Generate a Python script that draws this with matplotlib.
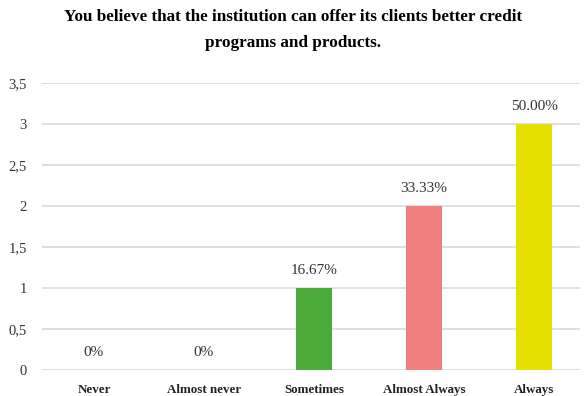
import matplotlib
matplotlib.use("Agg")
import matplotlib.pyplot as plt

categories = ["Never", "Almost never", "Sometimes", "Almost Always", "Always"]
counts = [0, 0, 1, 2, 3]
percent_labels = ["0%", "0%", "16.67%", "33.33%", "50.00%"]
bar_colors = ["#4472c4", "#ed7d31", "#4aab3a", "#f08080", "#e6e000"]
y_ticks = [0, 0.5, 1, 1.5, 2, 2.5, 3, 3.5]
y_tick_labels = ["0", "0,5", "1", "1,5", "2", "2,5", "3", "3,5"]
title = "You believe that the institution can offer its clients better credit\nprograms and products."

plt.rcParams["font.family"] = ["Liberation Serif", "DejaVu Serif"]

fig = plt.figure(figsize=(5.86, 3.96), dpi=100)
W, H = 586, 396
left, right, bottom, top = 42, 580, 370, 83
ax = fig.add_axes([left / W, 1 - bottom / H, (right - left) / W, (bottom - top) / H])

x = list(range(len(categories)))
ax.bar(x, counts, width=0.32, color=bar_colors, zorder=3)

for xi, c, lab in zip(x, counts, percent_labels):
    ax.annotate(lab, (xi, c), xytext=(0, 8), textcoords="offset points",
                ha="center", va="bottom", fontsize=11, color="#333333")

ax.set_ylim(0, 3.5)
ax.set_xlim(-(94 - left) / 110, (right - 94) / 110)
ax.set_yticks(y_ticks)
ax.set_yticklabels(y_tick_labels, fontsize=10.5, color="#333333")
ax.set_xticks(x)
ax.set_xticklabels(categories, fontsize=9.4, fontweight="bold", color="#222222")
ax.tick_params(axis="both", length=0)
ax.tick_params(axis="y", pad=11)
ax.tick_params(axis="x", pad=10)
ax.yaxis.grid(True, color="#d9d9d9", linewidth=1.2, zorder=0)
ax.set_axisbelow(True)
for s in ax.spines.values():
    s.set_visible(False)

fig.text(0.5, 1 - 9 / H, title, ha="center", va="top", fontsize=12.3,
         fontweight="bold", linespacing=1.8)

fig.savefig("out.png", dpi=100)
